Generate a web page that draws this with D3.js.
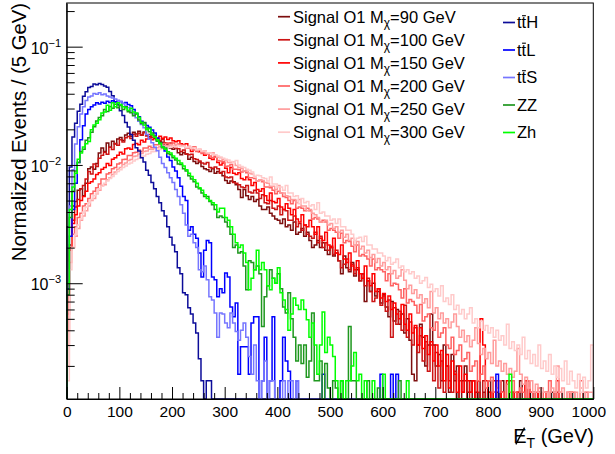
<!DOCTYPE html>
<html>
<head>
<meta charset="utf-8">
<script src="https://cdn.jsdelivr.net/npm/d3@7"></script>
<style>
  body { margin: 0; background: #fff; }
  svg { font-family: "Liberation Sans", Arial, Helvetica, sans-serif; }
</style>
</head>
<body>
<div id="chart-area"></div>
<script>
// normalized events per 5 GeV bin, in units of 1e-3 (bin i = 5i .. 5i+5 GeV)
const sig90 = [
  0.7, 2.1, 4.5, 4.9, 6.1, 6.3, 5.5, 7.0, 9.3, 9.6,
  9.2, 10.3, 12.6, 13.9, 13.0, 15.3, 14.1, 15.9, 15.0, 16.6,
  17.1, 16.1, 17.9, 18.5, 17.5, 18.9, 18.3, 19.3, 17.9, 19.0,
  17.8, 17.3, 18.0, 16.7, 16.3, 15.8, 15.5, 14.6, 15.0, 13.9,
  13.6, 14.0, 12.7, 12.2, 12.7, 12.4, 11.2, 11.6, 10.7, 10.3,
  10.6, 9.7, 9.3, 9.1, 8.8, 9.3, 8.5, 8.8, 8.6, 8.1,
  7.4, 7.0, 7.3, 7.2, 6.8, 6.2, 5.3, 6.2, 5.5, 5.1,
  5.4, 4.9, 5.1, 4.5, 4.2, 4.2, 4.4, 3.9, 3.7, 3.5,
  3.4, 3.2, 3.5, 3.0, 3.1, 2.8, 3.3, 2.6, 2.7, 2.9,
  2.5, 2.7, 2.3, 2.0, 2.1, 2.3, 2.0, 2.2, 1.9, 1.75,
  2.0, 1.7, 1.8, 1.55, 1.2, 1.7, 1.35, 1.25, 1.5, 1.15,
  1.3, 1.05, 1.2, 0.7, 1.05, 0.85, 1.0, 0.78, 0.85, 0.68,
  0.8, 0.63, 0.52, 0.7, 0.48, 0.6, 0.45, 0.55, 0.38, 0.5,
  0.33, 0.17, 0.15, 0.3, 0.45, 0.35, 0.2, 0.3, 0.55, 0.3,
  0.2, 0.25, 0.15, 0.3, 0.2, 0.12, 0.25, 0.15, 0.2, 0,
  0.15, 0.2, 0.12, 0.15, 0, 0.12, 0.15, 0, 0.12, 0,
  0.15, 0, 0, 0.12, 0, 0.15, 0, 0, 0, 0.12,
  0, 0, 0.15, 0, 0, 0, 0, 0.12, 0, 0,
  0, 0, 0, 0, 0.12, 0, 0, 0, 0, 0,
  0, 0, 0, 0, 0, 0, 0, 0, 0, 0
];
const sig100 = [
  0.55, 1.9, 3.4, 4.4, 5.1, 6.3, 6.7, 7.6, 8.8, 8.4,
  10.2, 9.7, 11.4, 12.1, 12.8, 12.3, 14.1, 13.5, 15.2, 14.7,
  16.3, 15.6, 17.0, 17.4, 16.7, 18.2, 17.5, 18.5, 17.8, 18.7,
  17.6, 18.1, 17.1, 17.6, 16.5, 16.1, 16.5, 15.4, 15.1, 15.3,
  14.2, 14.0, 13.7, 13.0, 13.4, 12.4, 12.2, 12.3, 11.3, 11.1,
  10.8, 10.4, 10.2, 10.5, 9.5, 9.4, 9.6, 9.3, 8.5, 8.8,
  7.9, 7.8, 7.9, 7.1, 7.0, 6.8, 6.5, 6.4, 6.7, 5.9,
  5.8, 6.1, 5.8, 5.2, 5.6, 4.8, 4.7, 5.0, 4.3, 4.2,
  4.5, 3.8, 4.2, 4.1, 3.4, 3.4, 3.7, 3.0, 3.2, 2.8,
  3.1, 2.6, 2.5, 2.4, 2.7, 2.2, 2.5, 2.0, 2.2, 1.9,
  2.05, 1.75, 1.9, 1.55, 1.35, 1.45, 1.6, 1.3, 1.45, 1.2,
  1.35, 1.05, 1.2, 0.95, 1.1, 0.85, 0.7, 0.75, 0.9, 0.65,
  0.78, 0.58, 0.72, 0.35, 0.62, 0.45, 0.58, 0.4, 0.65, 0.35,
  0.47, 0.3, 0.42, 0.26, 0.36, 0.22, 0.32, 0.18, 0.3, 0.15,
  0.26, 0.13, 0.22, 0.12, 0.2, 0.15, 0.12, 0.18, 0, 0.15,
  0.12, 0.15, 0, 0.12, 0.15, 0, 0.12, 0, 0.15, 0,
  0.12, 0, 0.15, 0, 0, 0.12, 0, 0, 0.15, 0,
  0, 0.12, 0, 0, 0, 0.15, 0, 0, 0, 0.12,
  0, 0, 0, 0, 0, 0, 0.12, 0, 0, 0,
  0, 0, 0, 0, 0, 0, 0, 0, 0, 0
];
const sig150 = [
  0.4, 2.0, 3.2, 3.8, 4.5, 5.0, 5.4, 6.0, 7.0, 7.2,
  7.6, 8.3, 8.6, 9.2, 9.5, 10.3, 9.9, 11.2, 11.5, 12.1,
  12.8, 12.4, 13.7, 13.9, 13.6, 14.9, 15.2, 14.8, 16.2, 15.6,
  16.6, 16.8, 16.3, 17.3, 16.7, 17.5, 16.8, 17.2, 16.4, 16.9,
  16.0, 15.7, 16.0, 15.1, 14.8, 15.1, 14.1, 13.0, 14.2, 13.2,
  12.9, 12.9, 12.1, 12.5, 11.4, 11.1, 11.7, 10.5, 10.0, 10.4,
  9.4, 8.6, 9.5, 8.5, 8.3, 8.6, 7.7, 7.5, 7.9, 7.5,
  6.7, 7.1, 6.2, 6.0, 6.3, 5.5, 5.0, 5.8, 4.9, 4.8,
  5.2, 4.4, 4.2, 4.7, 4.3, 3.8, 4.2, 3.5, 3.3, 3.8,
  3.1, 3.0, 3.4, 3.0, 2.6, 3.0, 2.4, 2.3, 2.7, 2.1,
  2.0, 2.4, 1.8, 1.75, 2.1, 1.6, 1.5, 1.8, 1.4, 1.3,
  1.55, 1.2, 1.1, 1.4, 1.05, 0.95, 1.2, 0.85, 0.9, 0.75,
  0.82, 0.7, 0.78, 0.6, 0.68, 0.55, 0.5, 0.66, 0.45, 0.4,
  0.55, 0.38, 0.44, 0.3, 0.42, 0.28, 0.36, 0.25, 0.32, 0.22,
  0.3, 0.2, 0.27, 0.15, 0.25, 0.13, 0.22, 0.17, 0.12, 0.2,
  0.12, 0.17, 0.15, 0.12, 0.15, 0, 0.15, 0.5, 0.3, 0.15,
  0.12, 0, 0.12, 0.15, 0, 0.12, 0, 0.15, 0, 0.12,
  0, 0.12, 0, 0, 0.15, 0, 0.12, 0, 0, 0.12,
  0, 0, 0.12, 0, 0, 0, 0.15, 0, 0, 0,
  0, 0.12, 0, 0, 0, 0, 0, 0, 0, 0
];
const sig200 = [
  0.3, 1.9, 2.6, 3.0, 3.6, 3.9, 4.5, 4.7, 5.2, 5.7,
  6.0, 6.4, 6.9, 7.6, 7.6, 8.4, 8.6, 9.3, 9.5, 10.2,
  10.4, 11.1, 11.2, 12.0, 12.0, 12.7, 12.8, 13.4, 13.0, 13.9,
  13.9, 14.4, 14.0, 14.8, 14.8, 15.1, 15.2, 15.2, 15.3, 14.9,
  15.3, 14.7, 15.0, 14.4, 14.7, 13.9, 13.9, 13.8, 13.4, 13.0,
  13.3, 12.5, 13.2, 12.4, 11.9, 11.5, 11.6, 10.9, 10.8, 10.7,
  9.7, 9.8, 10.1, 9.2, 9.2, 9.1, 8.7, 8.9, 8.6, 7.8,
  7.8, 7.7, 7.3, 7.5, 7.2, 6.5, 6.5, 6.4, 6.1, 5.7,
  6.0, 5.8, 5.4, 5.3, 5.0, 4.7, 5.0, 4.3, 4.4, 4.3,
  4.1, 4.3, 4.1, 3.5, 3.6, 3.5, 3.3, 3.4, 3.3, 2.8,
  2.9, 2.8, 2.7, 2.4, 2.65, 2.2, 2.3, 2.25, 2.05, 1.85,
  2.1, 1.7, 1.75, 1.7, 1.6, 1.4, 1.6, 1.3, 1.35, 1.3,
  1.25, 1.05, 1.2, 0.95, 1.0, 0.98, 0.88, 0.75, 0.9, 0.68,
  0.73, 0.7, 0.65, 0.56, 0.66, 0.48, 0.52, 0.55, 0.42, 0.4,
  0.47, 0.35, 0.38, 0.42, 0.3, 0.28, 0.35, 0.25, 0.27, 0.3,
  0.22, 0.23, 0.26, 0.18, 0.2, 0.22, 0.15, 0.17, 0.2, 0.13,
  0.15, 0.16, 0.12, 0.13, 0.15, 0.12, 0, 0.14, 0.12, 0.15,
  0.12, 0, 0.13, 0.12, 0, 0.15, 0.12, 0, 0.12, 0.13,
  0, 0.12, 0, 0.15, 0, 0.12, 0, 0.12, 0, 0,
  0.12, 0, 0.12, 0, 0, 0.15, 0, 0.12, 0, 0
];
const sig250 = [
  0.2, 1.5, 2.0, 2.5, 2.9, 3.4, 3.7, 4.1, 4.5, 5.0,
  5.2, 5.7, 6.1, 6.7, 6.8, 7.5, 7.8, 8.3, 8.7, 9.2,
  9.5, 10.1, 10.4, 10.9, 11.1, 11.8, 11.9, 12.4, 12.5, 13.0,
  13.1, 13.6, 13.5, 13.9, 14.0, 14.3, 14.0, 14.6, 14.4, 14.8,
  14.6, 14.8, 14.7, 14.5, 14.6, 14.0, 14.4, 13.7, 14.1, 13.3,
  13.6, 12.9, 13.1, 12.5, 12.7, 12.7, 12.1, 11.6, 11.5, 11.1,
  11.0, 10.5, 10.5, 10.6, 9.9, 9.5, 9.4, 8.9, 8.9, 8.5,
  8.4, 8.0, 7.3, 7.5, 7.4, 7.1, 7.0, 6.6, 6.6, 6.2,
  6.7, 5.8, 5.8, 5.5, 5.4, 5.1, 5.1, 4.8, 5.1, 4.5,
  4.5, 4.1, 4.2, 3.9, 3.8, 3.6, 3.3, 3.3, 3.4, 3.1,
  3.2, 2.9, 3.0, 2.7, 2.8, 2.45, 2.6, 2.3, 2.4, 2.1,
  2.25, 1.95, 2.05, 1.8, 1.9, 1.65, 1.75, 1.5, 1.62, 1.4,
  1.5, 1.3, 1.38, 1.2, 1.28, 1.1, 1.15, 1.3, 1.06, 0.9,
  0.96, 0.82, 0.88, 0.75, 0.8, 0.68, 0.74, 0.62, 0.85, 0.56,
  0.62, 0.5, 0.56, 0.46, 0.5, 0.42, 0.47, 0.55, 0.43, 0.35,
  0.4, 0.32, 0.36, 0.29, 0.33, 0.42, 0.31, 0.25, 0.28, 0.23,
  0.26, 0.21, 0.33, 0.2, 0.22, 0.18, 0.21, 0.17, 0.19, 0.16,
  0.18, 0.28, 0.17, 0.14, 0.16, 0.13, 0.15, 0.12, 0.14, 0.12,
  0.13, 0.12, 0.12, 0, 0.13, 0.12, 0.2, 0.12, 0.13, 0,
  0.12, 0.12, 0, 0.12, 0, 0.13, 0.12, 0, 0.12, 0.12
];
const sig300 = [
  0.15, 1.3, 2.0, 2.6, 3.1, 3.5, 4.0, 4.4, 4.8, 5.1,
  5.5, 5.8, 6.3, 6.6, 7.0, 7.3, 7.7, 8.0, 8.4, 8.8,
  9.1, 9.5, 9.8, 10.2, 10.4, 10.8, 11.1, 11.4, 11.8, 11.9,
  12.3, 12.5, 12.9, 13.0, 13.4, 13.5, 13.8, 13.8, 14.1, 14.1,
  14.4, 14.2, 14.5, 14.3, 14.4, 14.1, 14.2, 13.9, 13.9, 13.5,
  13.5, 13.1, 13.1, 12.7, 12.6, 12.3, 12.2, 11.9, 11.7, 11.4,
  11.2, 11.0, 10.7, 10.5, 10.9, 10.0, 9.7, 9.5, 9.2, 9.0,
  8.7, 7.9, 8.2, 8.1, 7.8, 7.7, 7.3, 7.9, 6.9, 6.9,
  6.5, 6.5, 6.1, 6.7, 5.8, 5.8, 5.4, 5.5, 4.7, 5.2,
  4.8, 4.9, 4.5, 4.6, 4.2, 4.8, 3.9, 4.0, 3.7, 3.7,
  3.4, 3.5, 3.2, 3.5, 3.0, 3.0, 2.8, 2.8, 2.6, 2.3,
  2.4, 2.45, 2.25, 2.5, 2.1, 2.1, 1.95, 1.95, 1.8, 1.8,
  1.7, 1.55, 1.65, 1.45, 1.5, 1.6, 1.35, 1.4, 1.25, 1.3,
  1.2, 1.25, 1.1, 1.15, 1.0, 1.05, 1.12, 0.92, 0.98, 0.85,
  0.9, 0.78, 0.95, 0.7, 0.75, 0.66, 0.8, 0.6, 0.65, 0.55,
  0.6, 0.5, 0.55, 0.62, 0.46, 0.5, 0.42, 0.48, 0.4, 0.44,
  0.38, 0.42, 0.35, 0.4, 0.33, 0.36, 0.3, 0.45, 0.28, 0.32,
  0.27, 0.3, 0.25, 0.35, 0.23, 0.27, 0.21, 0.25, 0.2, 0.3,
  0.19, 0.22, 0.18, 0.25, 0.17, 0.2, 0.16, 0.19, 0.15, 0.22,
  0.14, 0.18, 0.15, 0.13, 0.17, 0.12, 0.16, 0.13, 0.15, 0.3
];
const ttH = [
  3.0, 9.6, 17.2, 22.5, 28.4, 32.6, 38.1, 41.5, 45.2, 46.1,
  48.3, 47.6, 48.9, 47.8, 46.4, 45.3, 41.8, 38.5, 34.2, 32.3,
  28.7, 26.2, 22.8, 20.9, 18.1, 16.2, 14.0, 13.1, 11.5, 10.6,
  9.0, 8.2, 7.1, 6.3, 5.4, 4.8, 4.1, 3.7, 3.0, 2.45,
  2.1, 1.85, 1.35, 1.2, 0.83, 0.8, 0.62, 0.55, 0.46, 0.38,
  0.23, 0.15, 0, 0.15, 0.15
];
const ttL = [
  0.9, 2.5, 4.2, 7.0, 10.5, 16.3, 21.5, 27.0, 29.5, 31.0,
  32.2, 33.5, 32.8, 33.9, 33.2, 34.5, 33.8, 34.9, 34.1, 33.6,
  34.4, 33.0, 33.8, 32.5, 31.6, 29.4, 27.2, 25.5, 23.4, 22.7,
  21.6, 20.8, 19.7, 18.6, 16.9, 15.4, 14.2, 13.1, 11.7, 10.9,
  9.6, 8.9, 7.8, 6.6, 5.4, 5.0, 2.8, 3.0, 2.6, 2.4,
  1.8, 1.13, 1.9, 2.3, 2.2, 1.13, 1.07, 0.77, 0.9, 0.83,
  1.22, 1.13, 0.63, 0.52, 0.68, 0.17, 0.29, 0.29, 0.29, 0.17,
  0.46, 0.52, 0.52, 0, 0.15, 0.35, 0, 0.15, 0.52, 0,
  0, 0.15, 0.35, 0.22, 0.18, 0, 0, 0.15, 0, 0,
  0, 0, 0, 0, 0, 0, 0, 0.17, 0, 0,
  0, 0, 0, 0, 0, 0, 0, 0, 0, 0,
  0, 0, 0, 0, 0, 0, 0, 0, 0, 0.17,
  0, 0, 0, 0.17, 0, 0.17, 0, 0, 0, 0,
  0, 0, 0, 0, 0, 0, 0, 0, 0, 0,
  0, 0, 0, 0, 0, 0, 0, 0, 0, 0,
  0, 0, 0, 0, 0, 0, 0, 0, 0, 0,
  0, 0, 0, 0.17
];
const ttS = [
  2.0, 4.5, 9.1, 15.0, 21.0, 27.0, 31.0, 35.0, 37.5, 38.2,
  40.1, 39.6, 40.8, 39.2, 39.8, 38.3, 37.6, 36.9, 36.1, 35.3,
  34.4, 33.1, 31.5, 30.4, 28.6, 26.9, 25.1, 23.4, 22.0, 20.6,
  18.1, 16.5, 15.4, 14.1, 13.2, 11.6, 10.3, 9.5, 8.6, 7.8,
  7.1, 6.2, 5.4, 4.6, 3.9, 3.1, 2.5, 2.6, 2.2, 2.0,
  1.3, 1.25, 1.4, 1.07, 0.77, 0.72, 0.56, 0.35, 0.56, 0.55,
  0.46, 0.42, 0.56, 0.46, 0.39, 0.33, 0.4, 0.46, 0.35, 0.24,
  0.17, 0.3, 0.15, 0, 0.15, 0.22, 0, 0.15, 0.15, 0,
  0, 0, 0.15, 0, 0.15, 0.15, 0, 0.15
];
const zz = [
  0.8, 3.6, 6.0, 8.9, 10.5, 13.0, 13.6, 16.2, 17.0, 18.9,
  21.0, 23.5, 25.2, 26.0, 29.5, 28.3, 31.2, 30.1, 32.6, 30.5,
  31.8, 29.4, 31.0, 28.2, 27.6, 26.1, 26.9, 24.0, 22.4, 22.8,
  20.5, 19.1, 18.6, 17.4, 15.9, 15.5, 14.0, 13.9, 12.5, 12.2,
  11.5, 11.0, 10.2, 10.1, 9.3, 8.9, 8.1, 7.6, 7.2, 6.5,
  6.3, 5.8, 5.4, 5.4, 4.9, 4.6, 4.2, 3.6, 3.7, 3.6,
  3.3, 3.0, 2.6, 2.0, 2.1, 1.8, 1.85, 1.4, 0.88, 1.55,
  1.5, 1.3, 1.4, 1.2, 0.43, 0.77, 0.95, 1.3, 1.1, 1.0,
  1.2, 0.9, 0.63, 0.56, 0.83, 0.5, 0.35, 0.22, 0.3, 0.21,
  0.3, 0.16, 0.22, 0.56, 0.15, 0.15, 0.22, 0, 0.21, 0.13,
  0, 0.15, 0.13, 0, 0.15, 0, 0, 0.43, 0.15, 0.15,
  0, 0, 0, 0, 0.15, 0, 0, 0, 0.13, 0,
  0, 0, 0, 0, 0, 0, 0.15
];
const zh = [
  1.0, 4.2, 6.5, 8.5, 11.2, 12.6, 14.2, 15.1, 15.8, 19.8,
  21.8, 22.5, 24.1, 27.5, 28.0, 32.0, 29.0, 33.5, 31.0, 33.6,
  32.5, 31.0, 30.4, 29.0, 30.1, 28.0, 27.5, 25.2, 23.0, 21.8,
  19.8, 20.3, 18.0, 17.2, 16.3, 15.1, 14.2, 13.6, 12.9, 12.6,
  11.9, 11.4, 10.9, 10.4, 9.8, 9.1, 8.5, 8.0, 7.5, 7.0,
  6.4, 6.1, 5.6, 5.2, 5.0, 4.8, 4.6, 4.0, 4.3, 4.3,
  3.6, 3.4, 3.0, 2.6, 2.2, 2.0, 2.1, 1.8, 1.5, 0.88,
  1.1, 1.3, 1.9, 1.3, 1.5, 1.3, 0.95, 0.88, 1.1, 1.0,
  1.35, 0.83, 0.72, 0.6, 0.4, 0.55, 0.75, 0.65, 0.6, 0.72,
  0.6, 0.49, 0.35, 0.46, 0.3, 0.17, 0.3, 0.57, 0.26, 0.35,
  0.3, 0.24, 0.15, 0, 0.15, 0, 0.15, 0.15, 0.2, 0.26,
  0.15, 0.17, 0, 0.15, 0, 0, 0.15, 0, 0, 0,
  0.17, 0, 0, 0, 0, 0, 0, 0, 0, 0.15,
  0, 0, 0, 0, 0, 0, 0, 0, 0, 0,
  0, 0, 0, 0, 0, 0, 0, 0, 0, 0,
  0, 0, 0, 0, 0, 0, 0, 0, 0, 0,
  0, 0, 0, 0, 0, 0, 0, 0, 0.17
];

const sigMasses = [90, 100, 150, 200, 250, 300];
const sigColors = ["#7d0e0e", "#cc1414", "#ff0000", "#ff6262", "#ff9c9c", "#ffcaca"];
const bkgNames = ["ttH", "ttL", "ttS", "ZZ", "Zh"];
const bkgColors = ["#0c0c99", "#0000ff", "#7676ff", "#1f971f", "#00ff00"];

const xTicks = [0, 100, 200, 300, 400, 500, 600, 700, 800, 900, 1000];
const yTicks = [1e-3, 1e-2, 1e-1];
const yTickExp = ["\u22123", "\u22122", "\u22121"];

const binWidth = 5, nBins = 200;
const font = "'Liberation Sans', Arial, Helvetica, sans-serif";

const svg = d3.select("#chart-area").append("svg")
    .attr("width", 615)
    .attr("height", 454)

const plotLeft = 66.7, plotRight = 593.3, plotTop = 3, plotBottom = 399;
const x = d3.scaleLinear().domain([0, 1000]).range([plotLeft, plotRight]);
const yMin = 1.05e-4;
const y = d3.scaleLog().domain([yMin, 0.234]).range([plotBottom, plotTop]);

svg.append("clipPath").attr("id", "frame")
  .append("rect")
    .attr("x", plotLeft).attr("y", plotTop - 1)
    .attr("width", plotRight - plotLeft).attr("height", plotBottom - plotTop + 2);

// histogram outline as a step line, empty bins drop to the bottom of the frame
const line = d3.line()
    .x(d => x(d[0]))
    .y(d => y(Math.max(d[1], yMin)))
    .curve(d3.curveStepAfter);

function histPoints(vals) {
    const pts = [[0, 0]];
    for (let i = 0; i < nBins; i++) pts.push([i * binWidth, (vals[i] || 0) * 1e-3]);
    pts.push([1000, 0]);
    return pts;
}

const series = [sig90, sig100, sig150, sig200, sig250, sig300, ttH, ttL, ttS, zz, zh];
const colors = sigColors.concat(bkgColors);

svg.append("g").attr("clip-path", "url(#frame)")
  .selectAll("path")
  .data(series)
  .enter().append("path")
    .attr("d", d => line(histPoints(d)))
    .attr("fill", "none")
    .attr("stroke", (d, i) => colors[i])
    .attr("stroke-width", 1.5)

// frame
svg.append("rect")
    .attr("x", plotLeft).attr("y", plotTop)
    .attr("width", plotRight - plotLeft).attr("height", plotBottom - plotTop)
    .attr("fill", "none").attr("stroke", "#000").attr("stroke-width", 1);

// x axis, ticks pointing inward
const xAxis = svg.append("g").attr("transform", `translate(0,${plotBottom})`)
    .call(d3.axisBottom(x).tickValues(xTicks).tickFormat(d3.format("d"))
        .tickSizeInner(-12).tickSizeOuter(0).tickPadding(7));
xAxis.selectAll("text").attr("font-size", 15.5).attr("font-family", font).attr("fill", "#000")
    .attr("dx", d => d === 1000 ? -5 : 0);
xAxis.selectAll("line").attr("stroke", "#000");
xAxis.select(".domain").attr("stroke", "#000");

const xMinor = d3.range(0, 1001, 20).filter(v => v % 100 !== 0);
svg.append("g").attr("transform", `translate(0,${plotBottom})`)
    .call(d3.axisBottom(x).tickValues(xMinor).tickSizeInner(-6).tickSizeOuter(0).tickFormat(""))
    .call(g => g.select(".domain").remove())
    .selectAll("line").attr("stroke", "#000");

// y axis
const yAxis = svg.append("g").attr("transform", `translate(${plotLeft},0)`)
    .call(d3.axisLeft(y).tickValues(yTicks).tickSizeInner(-16).tickSizeOuter(0).tickFormat(""));
yAxis.selectAll("line").attr("stroke", "#000");
yAxis.select(".domain").attr("stroke", "#000");

const yMinor = [];
[1e-4, 1e-3, 1e-2, 1e-1].forEach(dec => {
    for (let k = 2; k <= 9; k++) {
        const v = dec * k;
        if (v > yMin && v < 0.234) yMinor.push(v);
    }
});
svg.append("g").attr("transform", `translate(${plotLeft},0)`)
    .call(d3.axisLeft(y).tickValues(yMinor).tickSizeInner(-8).tickSizeOuter(0).tickFormat(""))
    .call(g => g.select(".domain").remove())
    .selectAll("line").attr("stroke", "#000");

yTicks.forEach((t, i) => {
    const txt = svg.append("text")
        .attr("x", 61).attr("y", y(t) + 7)
        .attr("text-anchor", "end")
        .attr("font-family", font).attr("font-size", 16).attr("fill", "#000");
    txt.append("tspan").text("10");
    txt.append("tspan").attr("font-size", 11).attr("dy", -7).text(yTickExp[i]);
});

// axis titles
svg.append("text")
    .attr("transform", "translate(26,3) rotate(-90)")
    .attr("text-anchor", "end")
    .attr("font-family", font).attr("font-size", 20.3).attr("fill", "#000")
    .text("Normalized Events / (5 GeV)");

const xTitle = svg.append("text")
    .attr("x", 594).attr("y", 443)
    .attr("text-anchor", "end")
    .attr("font-family", font).attr("font-size", 20).attr("fill", "#000");
xTitle.append("tspan").text("E");
xTitle.append("tspan").attr("font-size", 14).attr("dy", 5).text("T");
xTitle.append("tspan").attr("dy", -5).text(" (GeV)");
const eBox = xTitle.node().getExtentOfChar(0);
svg.append("line")
    .attr("x1", eBox.x + eBox.width * 0.2).attr("y1", eBox.y + eBox.height * 0.88)
    .attr("x2", eBox.x + eBox.width * 0.85).attr("y2", eBox.y + eBox.height * 0.12)
    .attr("stroke", "#000").attr("stroke-width", 1.4);

// legend, left column: signals
sigMasses.forEach((m, i) => {
    const base = 22.7 + 23.1 * i;
    svg.append("line")
        .attr("x1", 278).attr("x2", 290)
        .attr("y1", base - 6).attr("y2", base - 6)
        .attr("stroke", sigColors[i]).attr("stroke-width", 1.7);
    const t = svg.append("text")
        .attr("x", 293).attr("y", base)
        .attr("font-family", font).attr("font-size", 16.5).attr("fill", "#000");
    t.append("tspan").text("Signal O1 M");
    t.append("tspan").attr("font-size", 12).attr("dy", 4).text("\u03c7");
    t.append("tspan").attr("dy", -4).text("=" + m + " GeV");
});

// legend, right column: backgrounds
bkgNames.forEach((name, i) => {
    const base = 28 + 27.5 * i;
    svg.append("line")
        .attr("x1", 503).attr("x2", 515)
        .attr("y1", base - 5.5).attr("y2", base - 5.5)
        .attr("stroke", bkgColors[i]).attr("stroke-width", 1.7);
    const t = svg.append("text")
        .attr("x", 517).attr("y", base)
        .attr("font-family", font).attr("font-size", 16.5).attr("fill", "#000")
        .text(name);
    if (name.startsWith("tt")) {
        // bar over the second t
        const b = t.node().getExtentOfChar(1);
        svg.append("line")
            .attr("x1", b.x + 0.5).attr("x2", b.x + b.width - 0.3)
            .attr("y1", base - 12.3).attr("y2", base - 12.3)
            .attr("stroke", "#000").attr("stroke-width", 1.1);
    }
});
</script>
</body>
</html>
